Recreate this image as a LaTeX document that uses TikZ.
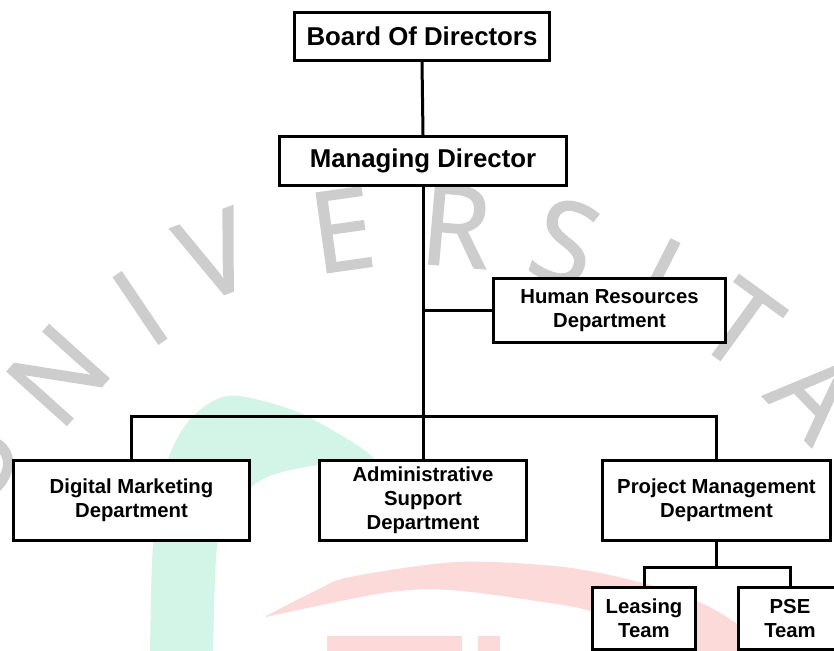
\documentclass[tikz,border=0pt]{standalone}
\usepackage{fontspec}
\setmainfont{Liberation Sans}
\newfontfamily\wmfont[FakeBold=1.6]{Open Sans}
\definecolor{wmgray}{RGB}{205,205,205}
\definecolor{mint}{RGB}{210,245,232}
\definecolor{pinkc}{RGB}{253,218,218}
\begin{document}
\begin{tikzpicture}[x=1pt,y=-1pt,
  box/.style={draw=black,line width=2.8pt,fill=white,inner sep=0pt,align=center,
    font=\fontsize{20.3}{24}\selectfont\bfseries},
  bigbox/.style={box,font=\fontsize{25.8}{30}\selectfont\bfseries},
  link/.style={line width=3pt,draw=black},
  wm/.style={text=wmgray,font=\wmfont\fontsize{112}{112}\selectfont,inner sep=0pt}]
\useasboundingbox (0,0) rectangle (834,650);
\clip (0,0) rectangle (834,650);
\fill[white] (0,0) rectangle (834,650);
% watermark shapes
\fill[mint] plot[smooth] coordinates {(150,660) (153,547) (167,463) (187,423) (213,401) (240,396) (300,413) (367,452) (386,478)}
  -- plot[smooth] coordinates {(386,478) (333,464) (267,477) (233,507) (217,547) (213,660)} -- cycle;
\fill[pinkc] plot[smooth] coordinates {(266,616) (317,590) (350,577) (457,562) (564,567) (643,583) (697,601) (737,624) (775,660)}
  -- plot[smooth] coordinates {(690,660) (640,630) (590,611) (550,603) (450,590) (383,593) (266,617)} -- cycle;
\fill[pinkc] (327,636) rectangle (462,660);
\fill[pinkc] (478,636) rectangle (500,660);
% watermark letters
\node[wm,rotate=62] (wu) at (-28,460) {U};
\node[wm,rotate=48] (wn) at (58,375) {N};
\node[wm,rotate=34] (wi) at (140,308) {I};
\node[wm,rotate=20] (wv) at (215,255) {V};
\node[wm,rotate=8] (we) at (342,230) {E};
\node[wm,rotate=-5] (wr) at (456,226) {R};
\node[wm,rotate=-18] (ws) at (565,242) {S};
\node[wm,rotate=-27] (wi2) at (657,277) {I};
\node[wm,rotate=-36] (wt) at (740,325) {T};
\node[wm,rotate=-46] (wa) at (816,394) {A};
% boxes
\node[bigbox,minimum width=255,minimum height=48] (board) at (422,36.5) {Board Of Directors};
\node[bigbox,minimum width=287,minimum height=49] (md) at (423,161) {Managing Director};
\node[box,minimum width=232,minimum height=64] (hr) at (609.5,310.5) {Human Resources\\Department};
\node[box,minimum width=236,minimum height=80] (dm) at (131.5,500.5) {Digital Marketing\\Department};
\node[box,minimum width=207,minimum height=80] (admin) at (423,500.5) {Administrative\\Support\\Department};
\node[box,minimum width=228,minimum height=80] (pm) at (716.5,500.5) {Project Management\\Department};
\node[box,minimum width=103,minimum height=62] (lt) at (644,618.5) {Leasing\\Team};
\node[box,minimum width=103,minimum height=62] (pse) at (790,618.5) {PSE\\Team};
% connectors
\coordinate (hrj) at (md.south |- hr.west);
\coordinate (bar) at (423,416);
\coordinate (tj) at (716.5,567);
\draw[link] (board.south) -- (md.north);
\draw[link] (md.south) -- (admin.north);
\draw[link] (hrj) -- (hr.west);
\draw[link] (dm.north) -- (dm.north |- bar) -- (pm.north |- bar) -- (pm.north);
\draw[link] (pm.south) -- (tj);
\draw[link] (lt.north) -- (lt.north |- tj) -- (pse.north |- tj) -- (pse.north);
\end{tikzpicture}
\end{document}
